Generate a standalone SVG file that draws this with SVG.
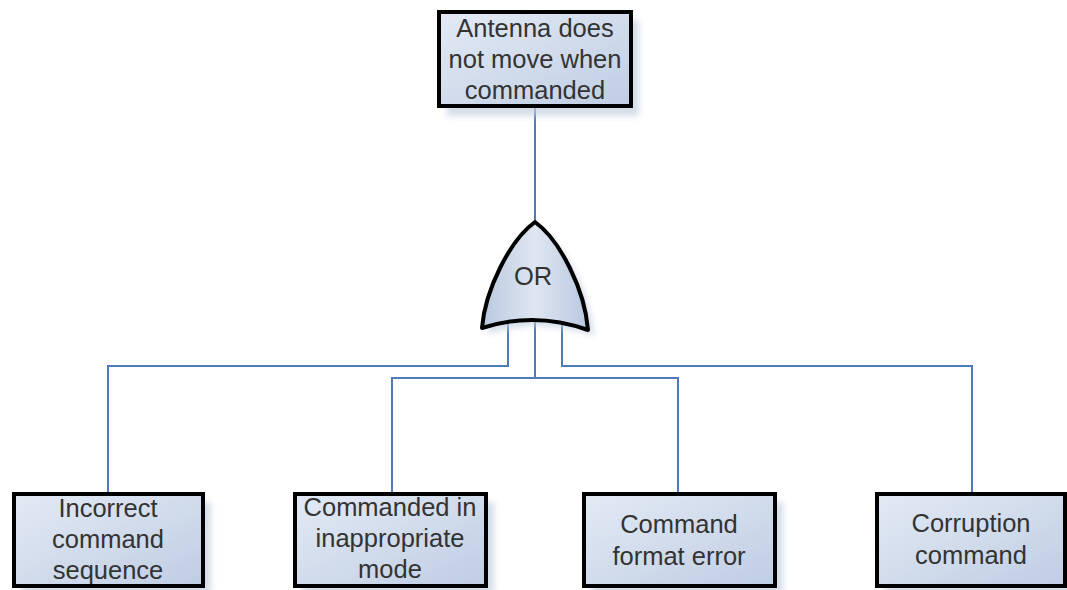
<svg xmlns="http://www.w3.org/2000/svg" width="1067" height="590" viewBox="0 0 1067 590">
<defs>
<linearGradient id="fill" x1="0" y1="0" x2="1" y2="1">
<stop offset="0" stop-color="#e3eaf4"/>
<stop offset="1" stop-color="#bfcde3"/>
</linearGradient>
<linearGradient id="gfill" x1="0" y1="0" x2="1" y2="0">
<stop offset="0" stop-color="#b9c8e0"/>
<stop offset="0.5" stop-color="#dfe6f1"/>
<stop offset="1" stop-color="#b9c8e0"/>
</linearGradient>
<filter id="blur" x="-20%" y="-20%" width="140%" height="140%">
<feGaussianBlur stdDeviation="3"/>
</filter>
</defs>
<style>
.box{fill:url(#fill);stroke:#000;stroke-width:4}
.shadow{fill:#c3cfe0;opacity:0.7;filter:url(#blur)}
.lbl{font-family:"Liberation Sans",Arial,sans-serif;font-size:25.5px;fill:#333;text-anchor:middle}
.wire{fill:none;stroke:#4f7bbb;stroke-width:2}
</style>
<rect width="1067" height="590" fill="#fff"/>
<g id="connectors">
<path class="wire" d="M535,106 V224"/>
<path class="wire" d="M508,320 V366 H108 V494"/>
<path class="wire" d="M535,318 V378"/>
<path class="wire" d="M392,494 V378 H678 V494"/>
<path class="wire" d="M562,320 V366 H972 V494"/>
</g>
<g id="top">
<rect class="shadow" x="447" y="20" width="192" height="96"/>
<rect class="box" x="439" y="12" width="192" height="94"/>
<text class="lbl" x="535" y="37">Antenna does</text>
<text class="lbl" x="535" y="68">not move when</text>
<text class="lbl" x="535" y="99">commanded</text>
</g>
<g id="or-gate">
<path class="shadow" d="M541,228 C566,246 591,296 594,336 Q541,317 488,334 C491,296 516,246 541,228 Z"/>
<path d="M535,222 C560,240 585,290 588,330 Q535,311 482,328 C485,290 510,240 535,222 Z" fill="url(#gfill)" stroke="#000" stroke-width="4" stroke-linejoin="round"/>
<text class="lbl" x="533" y="285">OR</text>
</g>
<g id="b1">
<rect class="shadow" x="22" y="502" width="189" height="92"/>
<rect class="box" x="14" y="494" width="189" height="92"/>
<text class="lbl" x="108" y="517">Incorrect</text>
<text class="lbl" x="108" y="548">command</text>
<text class="lbl" x="108" y="579">sequence</text>
</g>
<g id="b2">
<rect class="shadow" x="303" y="502" width="191" height="92"/>
<rect class="box" x="295" y="494" width="191" height="92"/>
<text class="lbl" x="390" y="516">Commanded in</text>
<text class="lbl" x="390" y="547">inappropriate</text>
<text class="lbl" x="390" y="578">mode</text>
</g>
<g id="b3">
<rect class="shadow" x="592" y="502" width="191" height="92"/>
<rect class="box" x="584" y="494" width="191" height="92"/>
<text class="lbl" x="679" y="533">Command</text>
<text class="lbl" x="679" y="565">format error</text>
</g>
<g id="b4">
<rect class="shadow" x="885" y="502" width="188" height="92"/>
<rect class="box" x="877" y="494" width="188" height="92"/>
<text class="lbl" x="971" y="532">Corruption</text>
<text class="lbl" x="971" y="564">command</text>
</g>
</svg>
